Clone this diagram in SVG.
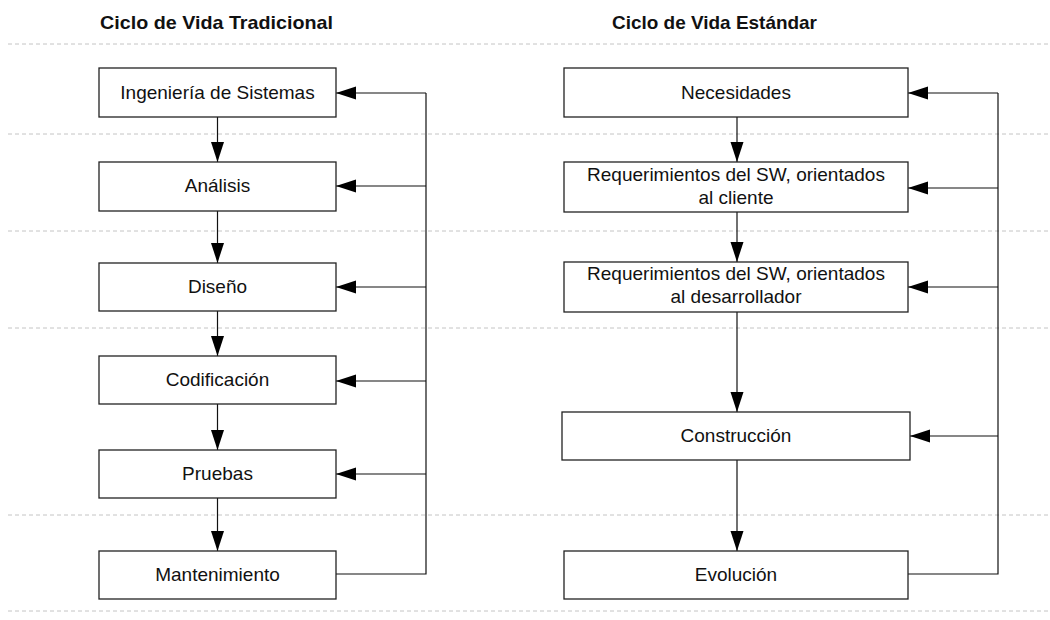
<svg xmlns="http://www.w3.org/2000/svg" width="1050" height="620" viewBox="0 0 1050 620">
<style>
.box{fill:#fff;stroke:#222;stroke-width:1.3}
.t{font-family:"Liberation Sans",Arial,sans-serif;font-size:19px;fill:#111;text-anchor:middle}
.title{font-family:"Liberation Sans",Arial,sans-serif;font-size:19px;font-weight:bold;fill:#111}
.sep{stroke:#c4c4c4;stroke-width:1;stroke-dasharray:4 3;fill:none}
.c{stroke:#111;stroke-width:1.2;fill:none}
.ca{stroke:#111;stroke-width:1.2;fill:none;marker-end:url(#ah)}
</style>
<defs>
<marker id="ah" markerUnits="userSpaceOnUse" markerWidth="20" markerHeight="14" refX="20" refY="7" orient="auto">
<path d="M0,0.5 L20,7 L0,13.5 Z" fill="#000"/>
</marker>
</defs>
<rect width="1050" height="620" fill="#fff"/>
<g id="separators">
<line class="sep" x1="8" y1="44" x2="1050" y2="44"/>
<line class="sep" x1="8" y1="134" x2="1050" y2="134"/>
<line class="sep" x1="8" y1="231" x2="1050" y2="231"/>
<line class="sep" x1="8" y1="328" x2="1050" y2="328"/>
<line class="sep" x1="8" y1="515" x2="1050" y2="515"/>
<line class="sep" x1="8" y1="611" x2="1050" y2="611"/>
</g>
<g id="titles">
<text class="title" x="100" y="29" textLength="233" lengthAdjust="spacingAndGlyphs">Ciclo de Vida Tradicional</text>
<text class="title" x="612" y="29" textLength="205" lengthAdjust="spacingAndGlyphs">Ciclo de Vida Estándar</text>
</g>
<g id="connectors">
<path class="ca" d="M217.5,117 V162"/>
<path class="ca" d="M217.5,211 V263"/>
<path class="ca" d="M217.5,311 V356"/>
<path class="ca" d="M217.5,404 V450"/>
<path class="ca" d="M217.5,498 V551"/>
<path class="c" d="M336,574 H426 V93"/>
<path class="ca" d="M426,93 H336"/>
<path class="ca" d="M426,186 H336"/>
<path class="ca" d="M426,287 H336"/>
<path class="ca" d="M426,381 H336"/>
<path class="ca" d="M426,474 H336"/>
<path class="ca" d="M737,117 V162"/>
<path class="ca" d="M737,212 V262"/>
<path class="ca" d="M737,312 V412"/>
<path class="ca" d="M737,460 V551"/>
<path class="c" d="M908,574 H998 V93"/>
<path class="ca" d="M998,93 H908"/>
<path class="ca" d="M998,188 H908"/>
<path class="ca" d="M998,287 H908"/>
<path class="ca" d="M998,436 H910"/>
</g>
<g id="n-ingenieria"><rect class="box" x="99" y="68" width="237" height="49"/><text class="t" x="217.5" y="99">Ingeniería de Sistemas</text></g>
<g id="n-analisis"><rect class="box" x="99" y="162" width="237" height="49"/><text class="t" x="217.5" y="192">Análisis</text></g>
<g id="n-diseno"><rect class="box" x="99" y="263" width="237" height="48"/><text class="t" x="217.5" y="293">Diseño</text></g>
<g id="n-codificacion"><rect class="box" x="99" y="356" width="237" height="48"/><text class="t" x="217.5" y="386">Codificación</text></g>
<g id="n-pruebas"><rect class="box" x="99" y="450" width="237" height="48"/><text class="t" x="217.5" y="480">Pruebas</text></g>
<g id="n-mantenimiento"><rect class="box" x="99" y="551" width="237" height="48"/><text class="t" x="217.5" y="581">Mantenimiento</text></g>
<g id="n-necesidades"><rect class="box" x="564" y="68" width="344" height="49"/><text class="t" x="736" y="99">Necesidades</text></g>
<g id="n-req-cliente"><rect class="box" x="564" y="162" width="344" height="50"/><text class="t" x="736" y="181">Requerimientos del SW, orientados</text><text class="t" x="736" y="204">al cliente</text></g>
<g id="n-req-desarrollador"><rect class="box" x="564" y="262" width="344" height="50"/><text class="t" x="736" y="280">Requerimientos del SW, orientados</text><text class="t" x="736" y="303">al desarrollador</text></g>
<g id="n-construccion"><rect class="box" x="562" y="412" width="348" height="48"/><text class="t" x="736" y="442">Construcción</text></g>
<g id="n-evolucion"><rect class="box" x="564" y="551" width="344" height="48"/><text class="t" x="736" y="581">Evolución</text></g>
</svg>
